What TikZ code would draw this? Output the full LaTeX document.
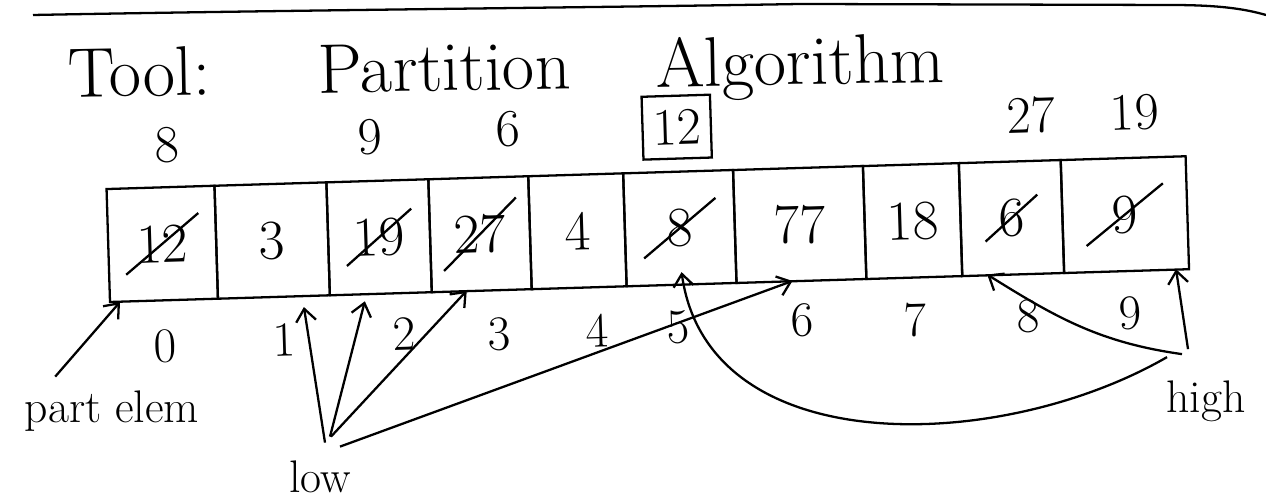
\documentclass[tikz,border=0pt]{standalone}
\usepackage{fontspec}
\usepackage{tikz}
\usetikzlibrary{arrows.meta,positioning,shapes.misc}

\begin{document}
\begin{tikzpicture}[
    >={Straight Barb[length=2.5mm,width=4mm]},
    line width=1.3pt,
    cell/.style={draw, minimum height=2.26cm, inner sep=0pt, outer sep=0pt},
    val/.style={font=\fontsize{32}{36}\selectfont, inner sep=2pt},
    gone/.style={strike out, draw, inner sep=0.2cm},
    idx/.style={font=\fontsize{28}{32}\selectfont, inner sep=2pt},
    newval/.style={font=\fontsize{30}{34}\selectfont, inner sep=2pt},
    word/.style={font=\fontsize{26}{30}\selectfont, inner sep=2pt},
]
\useasboundingbox (0,0) rectangle (25.32,10);

% Rule at the top
\draw (0.66,9.70) .. controls (6,9.8) and (12,9.85) .. (16,9.92) -- (23.4,9.9) .. controls (24.4,9.9) and (24.9,9.82) .. (25.32,9.7);

% Title
\node[anchor=base west, rotate=1, inner sep=0pt, font=\fontsize{40}{44}\selectfont] (title) at (1.34,8.05) {Tool:\hspace{2.15cm}Partition\hspace{1.7cm}Algorithm};

\begin{scope}[rotate around={1.75:(2.2,3.96)}, transform shape]
% Array cells
\node[cell, minimum width=2.16cm, anchor=south west] (c0) at (2.2,3.96) {};
\node[cell, minimum width=2.24cm, right=0pt of c0] (c1) {};
\node[cell, minimum width=2.04cm, right=0pt of c1] (c2) {};
\node[cell, minimum width=2.00cm, right=0pt of c2] (c3) {};
\node[cell, minimum width=1.90cm, right=0pt of c3] (c4) {};
\node[cell, minimum width=2.20cm, right=0pt of c4] (c5) {};
\node[cell, minimum width=2.60cm, right=0pt of c5] (c6) {};
\node[cell, minimum width=1.92cm, right=0pt of c6] (c7) {};
\node[cell, minimum width=2.04cm, right=0pt of c7] (c8) {};
\node[cell, minimum width=2.50cm, right=0pt of c8] (c9) {};

% Values (crossed ones were swapped)
\node[val, gone] (v0) at (c0) {12};
\node[val] (v1) at (c1) {3};
\node[val, gone, inner xsep=0.12cm, inner ysep=0.15cm] (v2) at (c2) {19};
\node[val, gone, inner ysep=0.3cm] (v3) at (c3) {27};
\node[val] (v4) at (c4) {4};
\node[val, gone, inner xsep=0.45cm, inner ysep=0.18cm] (v5) at (c5) {8};
\node[val] (v6) at (c6) {77};
\node[val] (v7) at (c7) {18};
\node[val, gone, inner xsep=0.25cm, inner ysep=0.05cm] (v8) at (c8) {6};
\node[val, gone, inner xsep=0.5cm, inner ysep=0.2cm] (v9) at (c9) {9};

% New values written above
\node[newval, above=0.4cm of c0, xshift=0.16cm] (n0) {8};
\node[newval, above=0.42cm of c2, xshift=-0.12cm] (n2) {9};
\node[newval, above=0.5cm of c3, xshift=0.62cm] (n3) {6};
\node[newval, draw, inner xsep=0.2cm, inner ysep=0.28cm, above=0.24cm of c5] (pivot) {12};
\node[newval, above=0.45cm of c8, xshift=0.46cm] (n8) {27};
\node[newval, above=0.45cm of c9, xshift=0.26cm] (n9) {19};

% Indices
\node[idx, below=0.5cm of c0] (i0) {0};
\node[idx, below=0.45cm of c1, xshift=0.18cm] (i1) {1};
\node[idx, below=0.4cm of c2, xshift=0.44cm] (i2) {2};
\node[idx, below=0.45cm of c3, xshift=0.32cm] (i3) {3};
\node[idx, below=0.45cm of c4, xshift=0.34cm] (i4) {4};
\node[idx, below=0.42cm of c5, xshift=-0.1cm] (i5) {5};
\node[idx, below=0.36cm of c6] (i6) {6};
\node[idx, below=0.42cm of c7] (i7) {7};
\node[idx, below=0.42cm of c8, xshift=0.28cm] (i8) {8};
\node[idx, below=0.42cm of c9, xshift=0.06cm] (i9) {9};
\end{scope}

% Pointers
\node[word, anchor=base] (pe) at (2.24,1.54) {part elem};
\node[word, anchor=base] (lo) at (6.4,0.14) {low};
\node[word, anchor=base] (hi) at (24.12,1.74) {high};

\draw[->] ([shift={(0.7,0.2)}]pe.north west) -- ([xshift=0.2cm]c0.south west);

\draw[->] ([shift={(0.1,0.28)}]lo.north) -- ([xshift=0.6cm, yshift=-0.2cm]c1.south);
\draw[->] ([shift={(0.2,0.4)}]lo.north) -- ([xshift=-0.32cm, yshift=-0.15cm]c2.south);
\draw[->] ([shift={(0.22,0.4)}]lo.north) -- ([xshift=-0.3cm]c3.south);
\draw[->] ([shift={(0.4,0.2)}]lo.north) -- ([xshift=-0.18cm]c6.south);

\draw[->] ([shift={(-0.36,0.55)}]hi.north) -- ([xshift=-0.26cm]c9.south east);
\draw[->] ([shift={(-0.48,0.45)}]hi.north) to[out=172,in=-32] ([xshift=-0.52cm]c8.south);
\draw[->] ([shift={(-0.78,0.39)}]hi.north) to[out=-150,in=-82] ([yshift=0.25cm]c5.south);

\end{tikzpicture}
\end{document}
